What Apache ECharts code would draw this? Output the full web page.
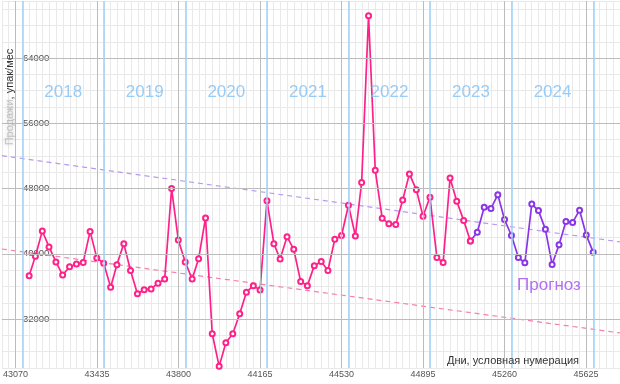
<!DOCTYPE html>
<html>
<head>
<meta charset="utf-8">
<script src="https://cdn.jsdelivr.net/npm/echarts@6/dist/echarts.min.js"></script>
<style>
html, body { margin: 0; padding: 0; background: #fff; }
#chart { width: 620px; height: 384px; }
</style>
</head>
<body>
<div id="chart"></div>
<script>
// помесячные данные, первая точка — конец января 2018
var startYear = 2018
var actual = [
  37300, 39700, 42800, 40850, 39000, 37400, 38400, 38750, 38950, 42750, 39500, 38850,
  35900, 38650, 41250, 37950, 35100, 35600, 35700, 36400, 36900, 48000, 41700, 39000,
  36900, 39400, 44400, 30200, 26200, 29100, 30200, 32650, 35300, 36100, 35550, 46500,
  41250, 39350, 42100, 40550, 36600, 36100, 38550, 39050, 37950, 41800, 42250, 45950,
  42200, 48750, 69200, 50250, 44350, 43700, 43600, 46600, 49800, 47850, 44600, 46950,
  39550, 38950, 49300, 46450, 44100, 41580
]
var forecast = [
  42650, 45700, 45550, 47250, 44200, 42250, 39550, 38900, 46100, 45300, 43000, 38700,
  41100, 43950, 43850, 45350, 42300, 40200
]
var years = ['2018', '2019', '2020', '2021', '2022', '2023', '2024']
var xTicks = [43070, 43435, 43800, 44165, 44530, 44895, 45260, 45625]
var yMajor = [32000, 40000, 48000, 56000, 64000]
var trendAll = [[43009, 52030], [45777, 41460]]     // тренд по всем данным
var trendActual = [[43009, 40590], [45777, 30300]]  // тренд по факту

var fontFamily = '"Liberation Sans", Arial, sans-serif'
var pinkColor = '#ff2189'
var purpleColor = '#8a36e8'
var blueLine = '#9fd1f6'
var yearColor = '#80c1f5'

// номер дня как в Excel
function serial(y, m, d) {
  return Math.round((Date.UTC(y, m, d) - Date.UTC(1899, 11, 30)) / 86400000)
}
function monthEnd(i) {
  return serial(startYear + Math.floor(i / 12), (i % 12) + 1, 0)
}

var actualData = actual.map(function (v, i) { return [monthEnd(i), v] })
var forecastData = [actualData[actualData.length - 1]].concat(
  forecast.map(function (v, i) { return [monthEnd(actual.length + i), v] }))

var jan1 = []
for (var y = startYear; y <= startYear + years.length; y++) jan1.push(serial(y, 0, 1))
var yearLabels = years.map(function (t, i) { return [(jan1[i] + jan1[i + 1]) / 2, 59800, t] })

var monthStep = 365 / 12
var xMin = xTicks[0] - 2 * monthStep
var xMax = xTicks[0] + 89 * monthStep

var guideLines = []
xTicks.forEach(function (v) { guideLines.push({ xAxis: v, lineStyle: { color: '#bcbcbc', width: 1, type: 'solid' } }) })
yMajor.forEach(function (v) { guideLines.push({ yAxis: v, lineStyle: { color: '#bcbcbc', width: 1, type: 'solid' } }) })
jan1.forEach(function (v) { guideLines.push({ xAxis: v, lineStyle: { color: blueLine, width: 1.5, type: 'solid' } }) })

function plain(v) { return String(Math.round(v)) }

var myChart = echarts.init(document.getElementById('chart'))
myChart.setOption({
  backgroundColor: '#fff',
  animation: false,
  textStyle: { fontFamily: fontFamily },
  grid: { left: 0, right: 0, top: 1, bottom: 16 },
  xAxis: {
    type: 'value',
    min: xMin,
    max: xMax,
    interval: monthStep,
    axisLine: { show: false },
    axisTick: { show: false },
    axisLabel: {
      customValues: xTicks,
      formatter: plain,
      color: '#555',
      fontSize: 9,
      margin: 2,
      fontFamily: fontFamily
    },
    splitLine: { show: true, lineStyle: { color: '#e9e9e9', width: 1 } }
  },
  yAxis: {
    type: 'value',
    min: 26000,
    max: 71000,
    interval: 2000,
    axisLine: { show: false },
    axisTick: { show: false },
    axisLabel: {
      customValues: yMajor,
      formatter: plain,
      inside: true,
      margin: 21,
      color: '#555',
      fontSize: 9.5,
      fontFamily: fontFamily
    },
    splitLine: { show: true, lineStyle: { color: '#e9e9e9', width: 1 } }
  },
  graphic: [
    {
      type: 'text', x: 10, y: 97, rotation: Math.PI / 2, z: 100,
      style: {
        text: '{b|Продажи}, упак/мес',
        fill: '#333', fontSize: 11, fontFamily: fontFamily,
        align: 'center', verticalAlign: 'middle',
        rich: {
          b: { fill: 'rgba(175,175,175,0.7)', fontSize: 11, textShadowColor: '#b0b0b0', textShadowBlur: 4 }
        }
      }
    },
    {
      type: 'text', x: 513, y: 361, z: 100,
      style: { text: 'Дни, условная нумерация', fill: '#333', fontSize: 11, fontFamily: fontFamily, align: 'center', verticalAlign: 'middle' }
    },
    {
      type: 'text', x: 549, y: 285, z: 100,
      style: { text: 'Прогноз', fill: '#b46ef5', fontSize: 17, fontFamily: fontFamily, align: 'center', verticalAlign: 'middle' }
    }
  ],
  series: [
    {
      // служебная серия: линии сетки по годам и основные деления
      type: 'line',
      z: 1,
      silent: true,
      symbol: 'none',
      data: [],
      markLine: {
        silent: true,
        symbol: ['none', 'none'],
        label: { show: false },
        data: guideLines
      }
    },
    {
      type: 'scatter',
      z: 5,
      silent: true,
      symbolSize: 1,
      itemStyle: { color: 'rgba(0,0,0,0)' },
      data: yearLabels,
      label: {
        show: true,
        position: 'inside',
        formatter: function (p) { return p.data[2] },
        color: yearColor,
        fontSize: 17,
        fontFamily: fontFamily
      }
    },
    {
      type: 'line', z: 2, silent: true, symbol: 'none',
      data: trendAll,
      lineStyle: { color: '#b79af0', width: 1.2, type: [5, 4] }
    },
    {
      type: 'line', z: 2, silent: true, symbol: 'none',
      data: trendActual,
      lineStyle: { color: '#f47fb0', width: 1.2, type: [5, 4] }
    },
    {
      type: 'line', z: 3, name: 'Прогноз',
      data: forecastData,
      symbol: 'emptyCircle', symbolSize: 5,
      lineStyle: { color: purpleColor, width: 1.7 },
      itemStyle: { color: purpleColor, borderWidth: 1 }
    },
    {
      type: 'line', z: 4, name: 'Факт',
      data: actualData,
      symbol: 'emptyCircle', symbolSize: 5,
      lineStyle: { color: pinkColor, width: 1.7 },
      itemStyle: { color: pinkColor, borderWidth: 1 }
    }
  ]
})
</script>
</body>
</html>
